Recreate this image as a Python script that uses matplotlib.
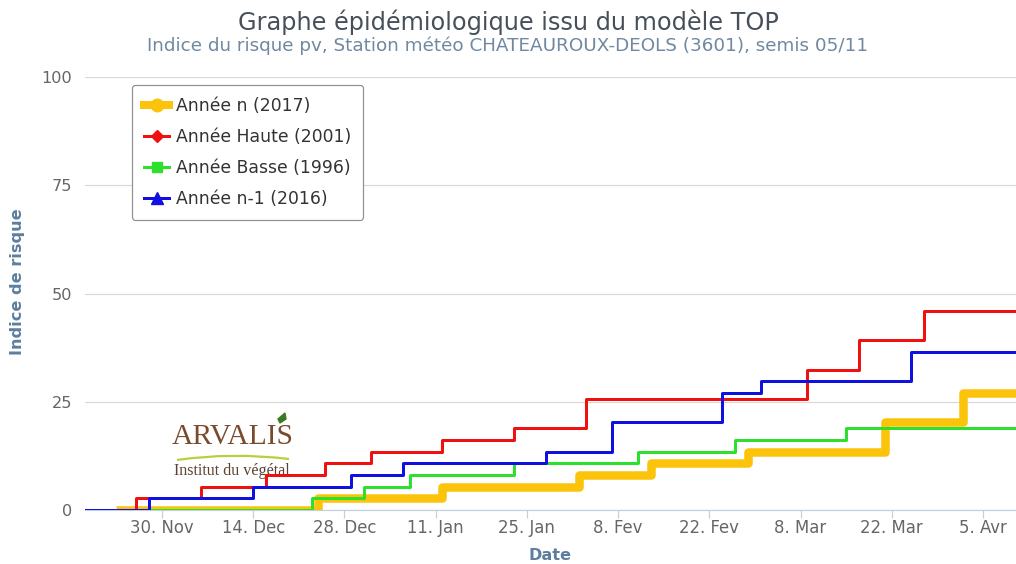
import matplotlib
matplotlib.use("Agg")
import matplotlib.pyplot as plt
from matplotlib.lines import Line2D
from matplotlib.patches import PathPatch, Polygon
from matplotlib.path import Path
import pandas as pd

# ---------------- data ----------------
series_names = ["Année n (2017)", "Année Haute (2001)", "Année Basse (1996)", "Année n-1 (2016)"]

n_dates = ["2017-11-23", "2017-12-24", "2018-01-12", "2018-02-02", "2018-02-13",
           "2018-02-28", "2018-03-21", "2018-04-02", "2018-04-11"]
n_vals = [0, 2.7, 5.4, 8.1, 10.8, 13.5, 20.3, 27.0, 27.0]

haute_dates = ["2017-11-17", "2017-11-26", "2017-12-06", "2017-12-16", "2017-12-25",
               "2018-01-01", "2018-01-12", "2018-01-23", "2018-02-03", "2018-03-09",
               "2018-03-17", "2018-03-27", "2018-04-11"]
haute_vals = [0, 2.7, 5.4, 8.1, 10.8, 13.5, 16.2, 18.9, 25.7, 32.4, 39.2, 46.0, 46.0]

basse_dates = ["2017-11-17", "2017-12-23", "2017-12-31", "2018-01-07", "2018-01-23",
               "2018-02-11", "2018-02-26", "2018-03-15", "2018-04-11"]
basse_vals = [0, 2.7, 5.4, 8.1, 10.8, 13.5, 16.2, 18.9, 18.9]

n1_dates = ["2017-11-17", "2017-11-28", "2017-12-14", "2017-12-29", "2018-01-06",
            "2018-01-28", "2018-02-07", "2018-02-24", "2018-03-02", "2018-03-25", "2018-04-11"]
n1_vals = [0, 2.7, 5.4, 8.1, 10.8, 13.5, 20.3, 27.0, 29.8, 36.5, 36.5]

xtick_dates = ["2017-11-30", "2017-12-14", "2017-12-28", "2018-01-11", "2018-01-25",
               "2018-02-08", "2018-02-22", "2018-03-08", "2018-03-22", "2018-04-05"]
xtick_labels = ["30. Nov", "14. Dec", "28. Dec", "11. Jan", "25. Jan",
                "8. Fev", "22. Fev", "8. Mar", "22. Mar", "5. Avr"]
ytick_vals = [0, 25, 50, 75, 100]

title = "Graphe épidémiologique issu du modèle TOP"
subtitle = "Indice du risque pv, Station météo CHATEAUROUX-DEOLS (3601), semis 05/11"

# ---------------- style ----------------
W, H = 1016, 564
c_yellow = "#FCC30B"
c_red = "#F01010"
c_green = "#2EE02E"
c_blue = "#1010E0"
axis_title_col = "#5E7E9E"
tick_col = "#666666"

plt.rcParams['font.family'] = ['DejaVu Sans']
fig = plt.figure(figsize=(W / 100, H / 100), dpi=100)
fig.patch.set_facecolor("white")
ax = fig.add_axes([85 / W, 54 / H, (W - 85) / W, (510 - 77) / H])


def px(v):
    return v * 72 / 100.0


def fxy(x, y):
    return (x / W, 1 - y / H)


lines_spec = [
    (n_dates, n_vals, c_yellow, px(8.5), 2),
    (haute_dates, haute_vals, c_red, px(3.0), 3),
    (basse_dates, basse_vals, c_green, px(3.0), 4),
    (n1_dates, n1_vals, c_blue, px(3.0), 5),
]
for d, v, c, lw, z in lines_spec:
    ax.plot(pd.to_datetime(d), v, drawstyle="steps-post", color=c, lw=lw, zorder=z,
            solid_joinstyle="round", solid_capstyle="butt")

x0 = pd.Timestamp("2017-11-01") + pd.Timedelta(days=17.18)
x1 = pd.Timestamp("2017-11-01") + pd.Timedelta(days=160.06)
ax.set_xlim(x0, x1)
ax.set_ylim(0, 100)

for s in ["top", "right", "left"]:
    ax.spines[s].set_visible(False)
ax.spines["bottom"].set_color("#C0D0E0")
ax.spines["bottom"].set_linewidth(px(1.2))
ax.spines["bottom"].set_zorder(1)

ax.set_yticks(ytick_vals)
ax.set_yticklabels([str(v) for v in ytick_vals])
ax.tick_params(axis="y", length=0, pad=px(13), labelsize=11.6, labelcolor=tick_col)
ax.yaxis.grid(True, color="#D8D8D8", lw=px(1.2))
ax.set_axisbelow(True)

ax.set_xticks(pd.to_datetime(xtick_dates))
ax.set_xticklabels(xtick_labels)
ax.tick_params(axis="x", length=px(8), width=px(1.2), color="#C0D0E0", pad=1,
               labelsize=11.9, labelcolor=tick_col)

ax.set_ylabel("Indice de risque", fontsize=11.6, fontweight="bold", color=axis_title_col)
ax.yaxis.set_label_coords(18 / W, 0.5, transform=fig.transFigure)
ax.set_xlabel("Date", fontsize=11.6, fontweight="bold", color=axis_title_col)
ax.xaxis.set_label_coords(550 / W, 1 - 555 / H, transform=fig.transFigure)
ax.xaxis.label.set_va("center")
ax.yaxis.label.set_va("center")

t1 = fig.text(508 / W, 1 - 22 / H, title, ha="center", va="center", fontsize=16, color="#47505A")
t2 = fig.text(508 / W, 1 - 46 / H, subtitle, ha="center", va="center", fontsize=12, color="#7088A0")

# ---------------- logo ----------------
tf = fig.transFigure
ax.text(172 / W, 1 - 437 / H, "ARVALIS", transform=tf, fontsize=21.3, family="Liberation Serif",
        color="#7A4A2C", ha="left", va="center", zorder=1, clip_on=False)
ax.text(174 / W, 1 - 471 / H, "Institut du végétal", transform=tf, fontsize=11.6,
        family="Liberation Serif", color="#5E4030", ha="left", va="center", zorder=1, clip_on=False)
swoosh = PathPatch(Path([fxy(177, 460), fxy(232, 452), fxy(289, 459)],
                        [Path.MOVETO, Path.CURVE3, Path.CURVE3]),
                   transform=tf, fill=False, edgecolor="#B8D040", lw=1.6, zorder=1, clip_on=False)
ax.add_artist(swoosh)
leaf = Polygon([fxy(278, 419), fxy(285, 413), fxy(286, 419), fxy(280, 423)],
               closed=True, transform=tf, color="#3A7A20", zorder=1, clip_on=False)
ax.add_artist(leaf)

# ---------------- legend ----------------
handles = [
    Line2D([], [], color=c_yellow, lw=px(8), marker="o", ms=9, mec=c_yellow),
    Line2D([], [], color=c_red, lw=px(3), marker="D", ms=6.5, mec=c_red),
    Line2D([], [], color=c_green, lw=px(3), marker="s", ms=7, mec=c_green),
    Line2D([], [], color=c_blue, lw=px(3), marker="^", ms=8.5, mec=c_blue),
]
leg = ax.legend(handles, series_names, loc="upper left",
                bbox_to_anchor=(132 / W, 1 - 85 / H), bbox_transform=tf, borderaxespad=0,
                fontsize=12.4, frameon=True, fancybox=True, handlelength=1.45,
                handletextpad=0.4, labelspacing=0.75, borderpad=0.7)
for t in leg.get_texts():
    t.set_color("#333333")
fr = leg.get_frame()
fr.set_edgecolor("#909090")
fr.set_linewidth(px(1.2))
fr.set_alpha(1)
leg.set_zorder(10)

# fit title widths to the reference
fig.canvas.draw()
r = fig.canvas.get_renderer()
for t, target in [(t1, 543), (t2, 718)]:
    w = t.get_window_extent(r).width
    t.set_fontsize(t.get_fontsize() * target / w)

fig.savefig("out.png", dpi=100)
